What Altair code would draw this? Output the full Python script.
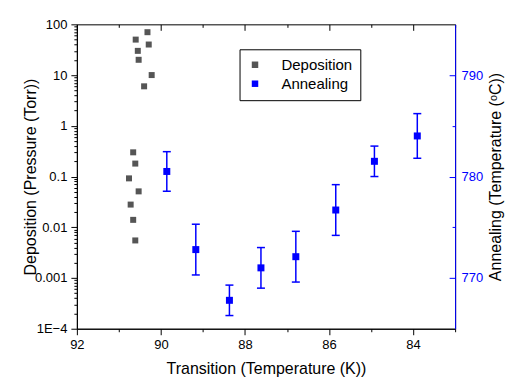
import altair as alt
import pandas as pd

# ---- data ----
dep_T = [90.32, 90.60, 90.29, 90.55, 90.53, 90.22, 90.40, 90.66, 90.61, 90.76, 90.53, 90.72, 90.66, 90.61]
dep_P = [70, 50, 40, 30, 20, 10, 6, 0.30, 0.18, 0.092, 0.051, 0.028, 0.014, 0.0055]

ann_T = [89.86, 89.17, 88.37, 87.62, 86.79, 85.84, 84.92, 83.90]
ann_A = [780.5, 772.8, 767.8, 771.0, 772.1, 776.7, 781.5, 784.0]
ann_err = [1.95, 2.5, 1.5, 2.0, 2.5, 2.5, 1.5, 2.2]

series_names = ["Deposition", "Annealing"]
series_colors = ["#555555", "#0000ff"]

x_ticks = list(range(83, 93))
p_ticks = [m * 10.0 ** e for e in range(-4, 2) for m in range(1, 10)] + [100.0]
a_major = [770, 780, 790]
a_ticks = [770, 775, 780, 785, 790]

dep = pd.DataFrame({"T": dep_T, "P": dep_P, "series": "Deposition"})
ann = pd.DataFrame({
    "T": ann_T,
    "A": ann_A,
    "lo": [a - e for a, e in zip(ann_A, ann_err)],
    "hi": [a + e for a, e in zip(ann_A, ann_err)],
    "series": "Annealing",
})

FONT = "Liberation Sans"
BLUE = "#0000ff"

xscale = alt.Scale(domain=[83, 92], reverse=True, nice=False, zero=False)
pscale = alt.Scale(type="log", domain=[1e-4, 100], nice=False)
ascale = alt.Scale(domain=[765, 795], nice=False, zero=False)

MAJ = "abs(log(datum.value)/LN10 - round(log(datum.value)/LN10)) < 0.01"

x_bottom = alt.Axis(
    orient="bottom", offset=0, values=x_ticks,
    labelExpr="datum.value % 2 == 0 ? datum.label : ''",
    tickSize=6, tickColor="black", tickWidth=1,
    tickDash={"condition": {"test": "datum.value % 2 != 0", "value": [3, 10]}, "value": [10, 0]},
    domainColor="black", labelColor="black", labelFont=FONT, labelFontSize=13,
    labelPadding=4, labelFlush=False, labelOverlap=False, grid=False,
    title="Transition (Temperature (K))", titleFont=FONT, titleFontSize=16,
    titleFontWeight="normal", titleColor="black", titlePadding=9,
)
x_top = alt.Axis(
    orient="top", offset=-6, values=x_ticks, labels=False, domain=False, grid=False,
    tickSize=6, tickColor="black", tickWidth=1,
    tickDash={"condition": {"test": "datum.value % 2 != 0", "value": [0, 3, 3]}, "value": [10, 0]},
    title="",
)
y_left = alt.Axis(
    orient="left", offset=0, values=p_ticks,
    labelExpr="(" + MAJ + ") ? (datum.value < 0.0005 ? '1E\u22124' : format(datum.value, '~g')) : ''",
    tickSize=6, tickColor="black", tickWidth=1,
    tickDash={"condition": {"test": "!(" + MAJ + ")", "value": [3, 10]}, "value": [10, 0]},
    domainColor="black", labelColor="black", labelFont=FONT, labelFontSize=13,
    labelPadding=4, labelFlush=False, labelOverlap=False, grid=False,
    title="Deposition (Pressure (Torr))", titleFont=FONT, titleFontSize=16,
    titleFontWeight="normal", titleColor="black", titlePadding=-4,
)
y_right = alt.Axis(
    orient="right", offset=0, values=a_major, ticks=False,
    domainColor=BLUE, labelColor=BLUE, labelFont=FONT, labelFontSize=13,
    labelPadding=6, labelFlush=False, grid=False,
    title="Annealing (Temperature (\u1d52C))", titleFont=FONT, titleFontSize=16,
    titleFontWeight="normal", titleColor="black", titlePadding=5, titleAngle=270,
    titleBaseline="top",
)
y_right_ticks = alt.Axis(
    orient="right", offset=-6, values=a_ticks, labels=False, domain=False, grid=False,
    tickSize=6, tickColor=BLUE, tickWidth=1,
    tickDash={"condition": {"test": "datum.value % 10 != 0", "value": [0, 3, 3]}, "value": [10, 0]},
    title="",
)

color = alt.Color(
    "series:N",
    scale=alt.Scale(domain=series_names, range=series_colors),
    legend=alt.Legend(
        title=None, orient="none", legendX=163, legendY=25,
        symbolType="square", symbolSize=42, symbolStrokeWidth=0, symbolOpacity=1,
        labelFont=FONT, labelFontSize=15, labelColor="black", labelOffset=19,
        strokeColor="black", fillColor="white", padding=8, rowPadding=3,
    ),
)

dep_pts = alt.Chart(dep).mark_square(size=36, opacity=1).encode(
    x=alt.X("T:Q", scale=xscale, axis=x_bottom),
    y=alt.Y("P:Q", scale=pscale, axis=y_left),
    color=color,
)

ann_rule = alt.Chart(ann).mark_rule(color=BLUE, strokeWidth=1.5).encode(
    x=alt.X("T:Q", scale=xscale, axis=None),
    y=alt.Y("lo:Q", scale=ascale, axis=y_right_ticks),
    y2="hi:Q",
)

ann_caps = alt.Chart(ann).transform_fold(["lo", "hi"], as_=["end", "val"]).mark_tick(
    orient="horizontal", size=8, thickness=1.5, color=BLUE, opacity=1
).encode(
    x=alt.X("T:Q", scale=xscale, axis=None),
    y=alt.Y("val:Q", scale=ascale, axis=None),
)

ann_pts = alt.Chart(ann).mark_square(size=49, opacity=1).encode(
    x=alt.X("T:Q", scale=xscale, axis=x_top),
    y=alt.Y("A:Q", scale=ascale, axis=y_right),
    color=color,
)

chart = alt.layer(dep_pts, ann_rule, ann_caps, ann_pts).resolve_scale(
    x="independent", y="independent"
).properties(
    width=379, height=305,
    autosize=alt.AutoSizeParams(type="none"),
    padding={"left": 69, "top": 16, "right": 60, "bottom": 50},
    background="white",
).configure_view(stroke="black", strokeWidth=1)

chart.save("out.html", embed_options={"renderer": "svg", "actions": False})
